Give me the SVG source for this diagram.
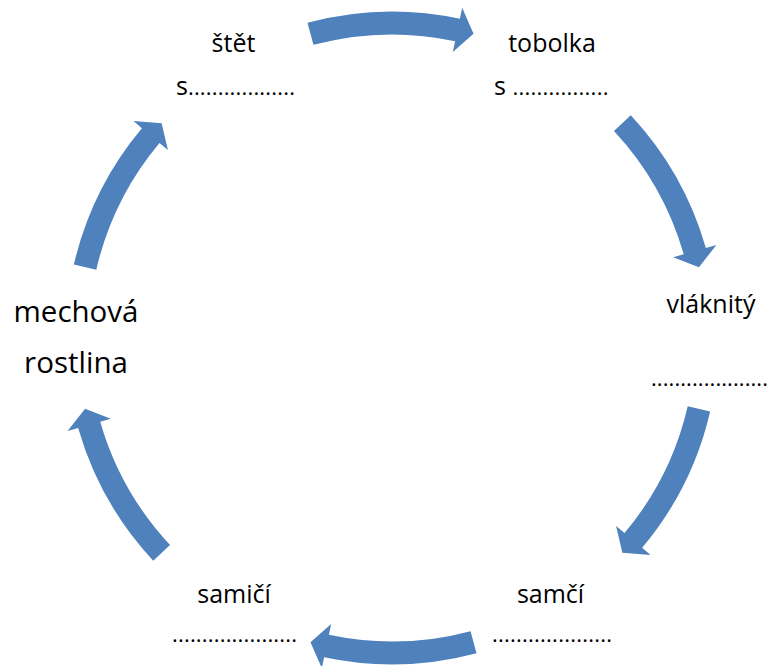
<svg xmlns="http://www.w3.org/2000/svg" xmlns:xlink="http://www.w3.org/1999/xlink" width="770" height="666" viewBox="0 0 770 666">
<style>
.lbl{font-family:"Open Sans","Liberation Sans",sans-serif;font-size:25px;fill:#000;}
.big{font-size:29.5px;}
.dots{font-size:22px;}
.arrow{fill:#4F81BD;}
</style>
<defs>
<path id="arc" class="arrow" d="M315.37,-84.50 A326.5,326.5 0 0 1 319.37,67.88 L330.13,70.17 L304.27,81.53 L286.11,60.81 L296.87,63.10 A303.5,303.5 0 0 0 293.16,-78.55 Z"/>
</defs>
<rect width="770" height="666" fill="#fff"/>
<g id="connectors">
<use xlink:href="#arc" transform="translate(392,338) rotate(-90)"/>
<use xlink:href="#arc" transform="translate(392,338) rotate(-28)"/>
<use xlink:href="#arc" transform="translate(392,338) rotate(28)"/>
<use xlink:href="#arc" transform="translate(392,338) rotate(90)"/>
<use xlink:href="#arc" transform="translate(392,338) rotate(152)"/>
<use xlink:href="#arc" transform="translate(392,338) rotate(208)"/>
</g>
<g id="stet">
<text class="lbl" x="233.5" y="52" text-anchor="middle">štět</text>
<text class="lbl" x="176" y="95">s<tspan class="dots" textLength="107" lengthAdjust="spacing">..................</tspan></text>
</g>
<g id="tobolka">
<text class="lbl" x="552" y="52" text-anchor="middle">tobolka</text>
<text class="lbl" x="494" y="95">s <tspan class="dots" textLength="96" lengthAdjust="spacing">................</tspan></text>
</g>
<g id="vlaknity">
<text class="lbl" x="711" y="313" text-anchor="middle">vláknitý</text>
<text class="lbl dots" x="651" y="386" textLength="117" lengthAdjust="spacing">....................</text>
</g>
<g id="samci">
<text class="lbl" x="550.5" y="603" text-anchor="middle">samčí</text>
<text class="lbl dots" x="492" y="642" textLength="120" lengthAdjust="spacing">....................</text>
</g>
<g id="samici">
<text class="lbl" x="234" y="603" text-anchor="middle">samičí</text>
<text class="lbl dots" x="172" y="642" textLength="125" lengthAdjust="spacing">.....................</text>
</g>
<g id="mechova">
<text class="lbl big" x="76" y="322" text-anchor="middle">mechová</text>
<text class="lbl big" x="76" y="373" text-anchor="middle">rostlina</text>
</g>
</svg>
